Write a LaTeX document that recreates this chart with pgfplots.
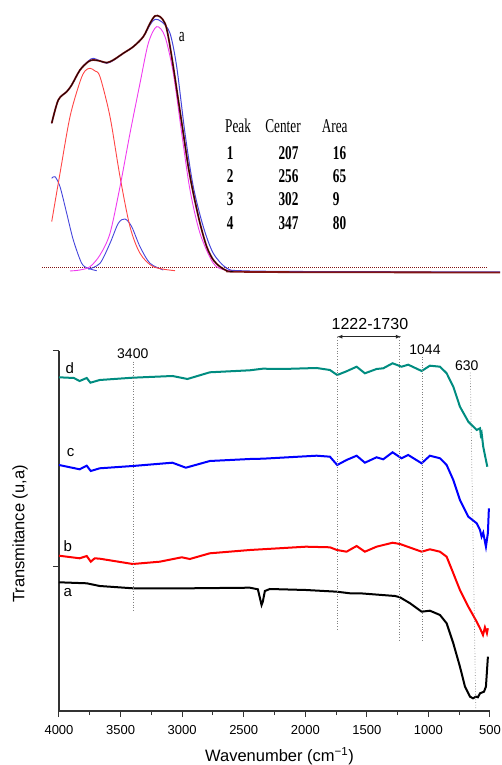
\documentclass[border=0pt]{standalone}
\usepackage{fontspec}
\setmainfont{Liberation Sans}
\newfontfamily\timesf{Liberation Serif}
\usepackage{graphicx}
\usepackage{pgfplots}
\pgfplotsset{compat=1.18}
\definecolor{dteal}{RGB}{0,140,128}
\definecolor{tred}{RGB}{255,70,70}
\definecolor{tmag}{RGB}{240,60,240}
\definecolor{tblue}{RGB}{70,70,220}
\definecolor{tdark}{RGB}{130,20,20}
\newcommand{\tf}[1]{\scalebox{0.68}[1]{\timesf\fontsize{19.5}{20}\selectfont #1}}
\newcommand{\tfb}[1]{\scalebox{0.68}[1]{\timesf\bfseries\fontsize{19.5}{20}\selectfont #1}}
\begin{document}
\begin{tikzpicture}
\path[use as bounding box] (0,0) rectangle (501pt,765pt);
% ---------------- top panel (deconvolution), no axes ----------------
\begin{axis}[at={(0pt,0pt)}, anchor=south west, scale only axis,
  width=501pt, height=765pt, xmin=0, xmax=501, ymin=0, ymax=765,
  axis lines=none, clip=false]
\addplot[tdark, densely dotted, line width=1pt] coordinates {(42,497.3) (487,497.3)};
% blue peak 1
\addplot[tblue, line width=0.9pt, smooth] coordinates {
(51.7,586.7) (55,588.3) (60,578.3) (66.7,551.7) (73.3,525) (81.7,501.7) (88.3,496.7) (96.7,494.3)};
% blue peak 3
\addplot[tblue, line width=0.9pt, smooth] coordinates {
(88.3,495.7) (100,501.7) (110,521.7) (118.3,541.7) (125,546) (131.7,538.3) (140,518.3) (150,501.7) (163.3,495)};
% red peak 2
\addplot[tred, line width=0.9pt, smooth] coordinates {
(51.7,543.3) (60,591.7) (70,648.3) (80,683.3) (85,694) (90,696.7) (95,694) (100,688.3) (110,648.3) (120,588.3) (130,538.3) (140,511.7) (153.3,498.3) (175,494.3)};
% magenta peak 4
\addplot[tmag, line width=0.9pt, smooth] coordinates {
(70,494) (80,495) (90,498.3) (100,510) (110,531.7) (120,578.3) (130,631.7) (140,681.7) (148.3,721.7) (156.7,738.3) (165,728.3) (173.3,691.7) (181.7,631.7) (190,575) (200,531.7) (213.3,501.7) (225,495) (240,494)};
% blue cumulative
\addplot[tblue, line width=1pt, smooth] coordinates {
(51.7,641.7) (58.3,665) (66.7,673.3) (71.7,680) (80,695) (88.3,704) (93.3,706.7) (100,704) (106.7,701.7) (113.3,704.5) (123.3,711.7) (133.3,718.3) (143.3,728.3) (150,740) (155,745.7) (162,743) (170,731.7) (176.7,698.3) (185,631.7) (193.3,578.3) (203.3,538.3) (213.3,511.7) (226.7,496.7) (240,494.3) (300,493.5) (500,493)};
% cumulative fit (dark)
\addplot[tdark, line width=1.8pt, smooth] coordinates {
(51.7,641.7) (58.3,665) (66.7,673.3) (71.7,680) (80,695) (88.3,703.3) (93.3,705) (100,704) (106.7,702.3) (113.3,705) (123.3,711.7) (133.3,718.3) (143.3,728.3) (150,741.7) (155,749) (160,748.3) (165,741.7) (168.3,728.3) (173.3,698.3) (178.3,665) (183.3,631.7) (188.3,598.3) (193.3,571.7) (200,541.7) (206.7,518.3) (213.3,505) (220,498.3) (226.7,494.3) (233.3,493.3) (300,492.8) (500,492.5)};
\addplot[black, line width=0.5pt, smooth] coordinates {
(51.7,641.7) (58.3,665) (66.7,673.3) (71.7,680) (80,695) (88.3,703.3) (93.3,705) (100,704) (106.7,702.3) (113.3,705) (123.3,711.7) (133.3,718.3) (143.3,728.3) (150,741.7) (155,749) (160,748.3) (165,741.7) (168.3,728.3) (173.3,698.3) (178.3,665) (183.3,631.7) (188.3,598.3) (193.3,571.7) (200,541.7) (206.7,518.3) (213.3,505) (220,498.3) (226.7,494.3) (233.3,493.3)};
% labels and table
\node[inner sep=0] at (axis cs:181.7,728.3) {\tf{a}};
\node[inner sep=0, anchor=west] at (axis cs:225,639) {\tf{Peak}};
\node[inner sep=0] at (axis cs:283,639) {\tf{Center}};
\node[inner sep=0] at (axis cs:334.7,639) {\tf{Area}};
\node[inner sep=0, anchor=west] at (axis cs:226.7,612.3) {\tfb{1}};
\node[inner sep=0, anchor=west] at (axis cs:226.7,589) {\tfb{2}};
\node[inner sep=0, anchor=west] at (axis cs:226.7,565.7) {\tfb{3}};
\node[inner sep=0, anchor=west] at (axis cs:226.7,542.3) {\tfb{4}};
\node[inner sep=0, anchor=east] at (axis cs:298.7,612.3) {\tfb{207}};
\node[inner sep=0, anchor=east] at (axis cs:298.7,589) {\tfb{256}};
\node[inner sep=0, anchor=east] at (axis cs:298.7,565.7) {\tfb{302}};
\node[inner sep=0, anchor=east] at (axis cs:298.7,542.3) {\tfb{347}};
\node[inner sep=0, anchor=west] at (axis cs:332.7,612.3) {\tfb{16}};
\node[inner sep=0, anchor=west] at (axis cs:332.7,589) {\tfb{65}};
\node[inner sep=0, anchor=west] at (axis cs:332.7,565.7) {\tfb{9}};
\node[inner sep=0, anchor=west] at (axis cs:332.7,542.3) {\tfb{80}};
\end{axis}
% ---------------- bottom panel: FTIR spectra ----------------
\begin{axis}[at={(59pt,54pt)}, anchor=south west, scale only axis,
  width=431pt, height=360pt,
  x dir=reverse, xmin=500, xmax=4000, ymin=54, ymax=414,
  axis lines=left, axis line style={-, line width=1.1pt, black!80},
  xtick={500,1000,...,4000}, minor x tick num=1,
  ytick={198,414}, yticklabels={},
  tick align=outside, major tick length=6pt, minor tick length=4pt,
  every tick/.style={black!80, line width=1pt},
  scaled x ticks=false,
  /pgf/number format/1000 sep={},
  /pgf/number format/assume math mode=true,
  tick label style={font=\fontsize{13}{15}\selectfont},
  xticklabel style={yshift=-5pt},
  xlabel={Wavenumber (cm\textsuperscript{−1})},
  ylabel={Transmitance (u,a)},
  label style={font=\fontsize{16.5}{18}\selectfont},
  xlabel style={at={(rel axis cs:0.5,0)}, anchor=center, yshift=-45pt, xshift=5pt},
  ylabel style={at={(rel axis cs:0,0.5)}, anchor=center, yshift=39pt, xshift=-3pt},
  clip=false]
% d
\addplot[dteal, line width=2pt] coordinates {
(4000,387.7) (3880,387) (3832,384) (3775,387) (3745,382.3) (3669,385) (3401,387.3) (3079,389) (2957,386) (2775,392.7) (2450,394.7) (2345,396.3) (2182,396) (1908,397) (1800,395) (1741,390) (1665,393.7) (1583,398.3) (1516,391.7) (1421,396) (1367,396.7) (1291,401.7) (1218,398.3) (1164,400.3) (1055,394) (988,399.3) (906,398.3) (852,391.7) (798,378.3) (744,358.3) (676,343.3) (608,335) (581,336.7) (575,330) (568,332) (555,318.3) (522,298.3)};
% c
\addplot[blue, line width=2pt] coordinates {
(4000,300) (3832,295.7) (3775,299.3) (3742,294) (3669,296.7) (3401,299) (3079,302.3) (2970,297.3) (2775,304) (2450,306) (2345,306.3) (1908,309.3) (1800,308.3) (1741,300) (1665,305) (1583,309.3) (1516,302.3) (1421,307.7) (1367,305.7) (1291,312.7) (1218,306.7) (1164,310) (1055,301.7) (988,309.3) (906,306.7) (852,300) (798,285) (744,265) (676,248.3) (608,241.7) (581,235) (568,228.3) (555,232.3) (533,218.3) (517,232) (509,256.7)};
% b
\addplot[red, line width=2pt] coordinates {
(4000,209.3) (3832,206.7) (3775,209) (3742,203.3) (3710,206.7) (3669,206.3) (3401,201) (3182,203.3) (3003,207.7) (2938,206) (2775,211.7) (2450,215) (1995,218.3) (1800,217.7) (1743,215) (1665,213.3) (1583,219) (1516,213.3) (1421,218.3) (1291,222.3) (1231,221) (1055,213.3) (988,215.7) (906,213.3) (852,208.3) (798,191.7) (744,175) (676,158.3) (608,143.3) (581,136.7) (557,130) (541,137.7) (525,131.7) (517,136.7)};
% a
\addplot[black, line width=2pt] coordinates {
(4000,182.7) (3775,181.7) (3669,179) (3401,176.7) (2938,176.7) (2450,177.3) (2385,175.7) (2355,160) (2345,163.3) (2328,174) (2288,176) (1995,175) (1743,173.3) (1637,171.7) (1556,171.7) (1271,169) (1231,167.7) (1149,161.7) (1055,153.3) (988,154.3) (906,150) (852,141.7) (798,121.7) (744,98.3) (703,78.3) (662,68.3) (638,66.7) (614,68.3) (598,67.7) (581,71.7) (549,73.3) (533,78.3) (517,108.3)};
% dotted marker lines
\addplot[gray, dotted, line width=0.7pt] coordinates {(3400,403.3) (3400,153.3)};
\addplot[gray, dotted, line width=0.7pt] coordinates {(1740,427.7) (1740,134.3)};
\addplot[gray, dotted, line width=0.7pt] coordinates {(1240,427.7) (1240,123.3)};
\addplot[gray, dotted, line width=0.7pt] coordinates {(1048,408.3) (1048,122.3)};
\addplot[gray, dotted, line width=0.7pt] coordinates {(660,392.3) (615,55)};
\draw[<->, >=latex, line width=0.8pt, black!85] (axis cs:1740,428.3) -- (axis cs:1223,428.3);
\node[font=\fontsize{16}{18}\selectfont] at (axis cs:1475,441) {1222-1730};
\node[font=\fontsize{14}{16}\selectfont] at (axis cs:1028,415) {1044};
\node[font=\fontsize{14}{16}\selectfont] at (axis cs:689,399.3) {630};
\node[font=\fontsize{14}{16}\selectfont] at (axis cs:3401,411) {3400};
\node[font=\fontsize{15}{17}\selectfont] at (axis cs:3913,396.7) {d};
\node[font=\fontsize{15}{17}\selectfont] at (axis cs:3905,312.3) {c};
\node[font=\fontsize{15}{17}\selectfont] at (axis cs:3929,219) {b};
\node[font=\fontsize{15}{17}\selectfont] at (axis cs:3929,172.3) {a};
\end{axis}
\end{tikzpicture}
\end{document}
